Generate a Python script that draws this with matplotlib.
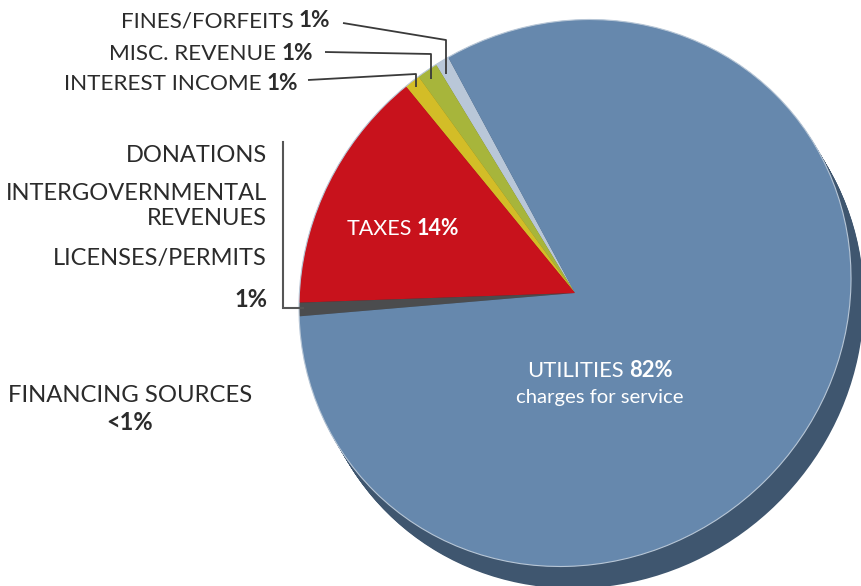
import matplotlib
matplotlib.use('Agg')
import matplotlib.pyplot as plt
from matplotlib.transforms import Affine2D

W, H = 861, 586

# slices, counter-clockwise from the top left edge of the big blue slice
categories = ['Fines/Forfeits', 'Misc. Revenue', 'Interest Income', 'Taxes',
              'Donations / Intergovernmental / Licenses', 'Utilities']
shares = [0.8, 1.2, 0.9, 14.2, 0.8, 82.1]
face_colors = ['#b9c7d8', '#a7b53b', '#d3bd27', '#c8121c', '#4b4c4e', '#6688ad']
side_colors = ['#7f8a98', '#737d29', '#93841b', '#8a0d13', '#333436', '#3f566f']

# label texts
top_labels = ['FINES/FORFEITS', 'MISC. REVENUE', 'INTEREST INCOME']
top_pcts = ['1%', '1%', '1%']
group_labels = ['DONATIONS', 'INTERGOVERNMENTAL', 'REVENUES', 'LICENSES/PERMITS']
group_pct = '1%'
fin_label = 'FINANCING SOURCES'
fin_pct = '<1%'
taxes_label, taxes_pct = 'TAXES', '14%'
util_label, util_pct, util_sub = 'UTILITIES', '82%', 'charges for service'

FONT = 'Lato'
TXT = '#2b2b2b'
FS = 17

fig = plt.figure(figsize=(W / 100, H / 100), dpi=100)
ax = fig.add_axes([0, 0, 1, 1])

# pie centre and tilted ellipse shape (pixels, y measured from top)
cx, cy = 575, 293


def draw_pie(colors, dx=0.0, dy=0.0):
    wedges, _ = ax.pie(shares, colors=colors, startangle=118.9, counterclock=True,
                       radius=1, center=(0, 0), wedgeprops=dict(linewidth=0))
    tr = (Affine2D().rotate_deg(-40.2).scale(282.2, 267.1).rotate_deg(40.2)
          .translate(cx + dx, H - cy - dy) + ax.transData)
    for w in wedges:
        w.set_transform(tr)
    return tr


# 3d side of the pie
n = 24
for k in range(n, 0, -1):
    draw_pie(side_colors, 13.0 * k / n, 22.0 * k / n)
tr = draw_pie(face_colors)
rim = plt.Circle((0, 0), 1, fill=False, edgecolor='#b7c6d6', linewidth=0.8, transform=tr)
ax.add_patch(rim)

ax.set_xlim(0, W)
ax.set_ylim(0, H)
ax.set_aspect('auto')
ax.axis('off')

renderer = fig.canvas.get_renderer()


def mixed(x, y, parts, ha='right', color=TXT, size=FS):
    # parts: list of (text, weight); y is the baseline from the top
    texts = []
    for s, wt in parts:
        t = ax.text(0, 0, s, fontsize=size, fontweight=wt, family=FONT,
                    color=color, ha='left', va='baseline')
        texts.append(t)
    widths = [t.get_window_extent(renderer).width for t in texts]
    gap = size * 100 / 72 * 0.22
    total = sum(widths) + gap * (len(texts) - 1)
    if ha == 'right':
        cur = x - total
    elif ha == 'center':
        cur = x - total / 2
    else:
        cur = x
    for t, w in zip(texts, widths):
        t.set_position((cur, H - y))
        cur += w + gap


# top labels
top_x = [330, 313, 298]
top_y = [27, 60, 90]
for lab, pct, x, y in zip(top_labels, top_pcts, top_x, top_y):
    mixed(x, y, [(lab, 'normal'), (pct, 'bold')], size=16.2)

# leader lines
leaders = [
    ([343, 446, 446], [23, 40, 74]),
    ([325, 431, 431], [52, 54, 79]),
    ([308, 416, 416], [80, 74, 87]),
]
for xs, ys in leaders:
    ax.plot(xs, [H - v for v in ys], color='#3a3a3a', lw=1.3, solid_capstyle='butt')
ax.plot([283, 283, 303], [H - 142, H - 308, H - 308], color='#555555', lw=1.5,
        solid_joinstyle='miter')

# grouped labels on the left
for lab, y in zip(group_labels, [162, 200, 225, 265]):
    mixed(267, y, [(lab, 'normal')])
mixed(267, 307, [(group_pct, 'bold')])

mixed(8, 402, [(fin_label, 'normal')], ha='left', size=17.2)
mixed(130, 430, [(fin_pct, 'bold')], ha='center')

# labels inside the pie
mixed(403, 235, [(taxes_label, 'normal'), (taxes_pct, 'bold')], ha='center',
      color='white', size=15.5)
mixed(600, 377, [(util_label, 'normal'), (util_pct, 'bold')], ha='center',
      color='white', size=15.8)
mixed(600, 403, [(util_sub, 'normal')], ha='center', color='white', size=14.6)

fig.savefig('out.png', dpi=100)
